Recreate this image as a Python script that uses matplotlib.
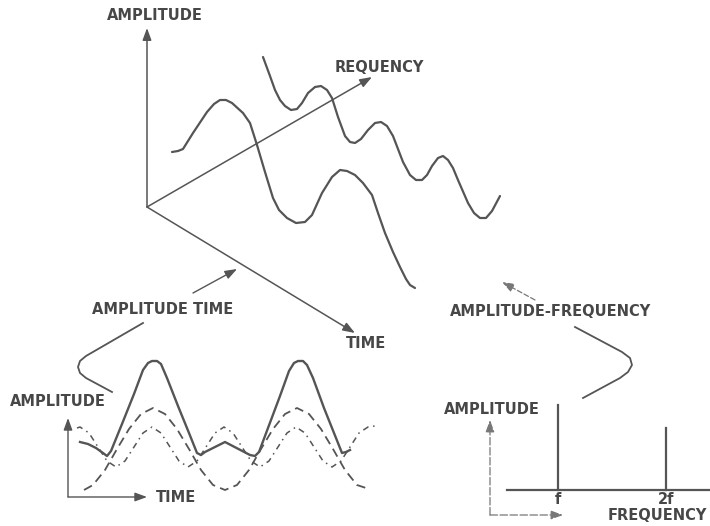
import matplotlib
matplotlib.use("Agg")
from matplotlib import pyplot as plt

# ---- data (pixel positions) ----
origin = (147, 207)
amp_tip = (147, 28)
freq_tip = (372, 77)
time_tip = (355, 333)

# front wave in the 3D view (amplitude vs time)
front_x = [172, 178, 183, 193, 207, 214, 220, 226, 232, 243, 250, 257, 265, 273, 279, 287, 296,
           305, 312, 322, 332, 340, 347, 355, 363, 372, 378, 385, 393, 400, 406, 410, 415]
front_y = [152, 151, 149, 133, 112, 104, 100, 100, 103, 113, 123, 145, 172, 198, 210, 218, 223,
           222, 215, 193, 177, 170, 171, 175, 183, 195, 213, 233, 252, 267, 279, 285, 288]

# back wave in the 3D view (amplitude vs frequency)
back_x = [263, 270, 275, 280, 285, 291, 297, 302, 308, 315, 321, 327, 332, 338, 345, 350, 355,
          361, 368, 375, 381, 387, 393, 403, 410, 416, 422, 427, 432, 438, 443, 448, 453, 458,
          468, 474, 480, 486, 492, 500]
back_y = [57, 76, 90, 100, 106, 110, 109, 103, 93, 87, 86, 90, 98, 117, 136, 142, 143,
          139, 130, 123, 122, 126, 136, 162, 175, 180, 180, 175, 166, 158, 156, 160, 168, 180,
          203, 213, 218, 218, 211, 196]

# bottom-left: fundamental (long dash)
fund_x = [84, 93, 105, 117, 129, 141, 153, 165, 177, 189, 201, 213, 225, 237, 249, 261, 273,
          285, 297, 309, 321, 333, 345, 357, 369]
fund_y = [490, 485, 470, 449, 429, 414, 408, 414, 429, 449, 470, 485, 490, 485, 470, 449, 429,
          414, 408, 414, 429, 449, 470, 485, 489]

# bottom-left: second harmonic (dash-dot)
harm_x = [77, 80, 89, 98, 107, 116, 125, 134, 143, 152, 161, 170, 179, 188, 197, 206, 215, 224,
          233, 242, 251, 260, 269, 278, 287, 296, 305, 314, 323, 332, 341, 350, 359, 368, 375]
harm_y = [428, 427, 433, 447, 461, 467, 461, 447, 433, 427, 433, 447, 461, 467, 461, 447, 433, 427,
          433, 447, 461, 467, 461, 447, 433, 427, 433, 447, 461, 467, 461, 447, 433, 427, 426]

# bottom-left: resulting complex wave (solid)
sum_x = [80, 88, 96, 103, 107, 111, 122, 134, 143, 148, 152, 157, 161, 167, 178, 189, 197, 201,
         205, 225, 250, 255, 259, 268, 280, 289, 294, 298, 303, 307, 313, 324, 334, 342, 346, 350]
sum_y = [442, 444, 448, 453, 456, 451, 424, 394, 370, 363, 361, 361, 364, 378, 406, 433, 453, 455,
         452, 442, 455, 456, 452, 428, 396, 371, 363, 361, 361, 365, 378, 408, 433, 453, 452, 450]

# bottom-right spectrum
spike_labels = ["f", "2f"]
spike_x = [558, 666]
spike_amp = [85, 62]
spec_base = 490

# connector brackets
left_brace_x = [143, 86, 80, 78, 80, 86, 112]
left_brace_y = [323, 356, 361, 367, 373, 378, 392]
right_brace_x = [575, 622, 630, 632, 628, 620, 583]
right_brace_y = [327, 352, 358, 365, 372, 378, 398]

ink = "#555555"
text_ink = "#474747"
font = dict(family="DejaVu Sans", fontweight="bold", fontsize=10.5, color=text_ink,
            ha="center", va="center")


def arrow(ax, tail, tip, lw=1.1, color=ink, ls="-", scale=12):
    ax.annotate("", xy=tip, xytext=tail,
                arrowprops=dict(arrowstyle="-|>,head_length=0.6,head_width=0.22",
                                color=color, lw=lw, ls=ls, shrinkA=0, shrinkB=0,
                                mutation_scale=scale))


fig = plt.figure(figsize=(7.10, 5.26), dpi=100)
ax = fig.add_axes([0, 0, 1, 1])
ax.set_xlim(0, 710)
ax.set_ylim(526, 0)
ax.axis("off")

# 3D view axes
arrow(ax, origin, amp_tip)
arrow(ax, origin, freq_tip)
arrow(ax, origin, time_tip)
ax.plot(front_x, front_y, color=ink, lw=1.6, solid_capstyle="round", solid_joinstyle="round")
ax.plot(back_x, back_y, color=ink, lw=1.6, solid_capstyle="round", solid_joinstyle="round")
ax.text(155, 15, "AMPLITUDE", **font)
ax.text(379, 67, "REQUENCY", **font)
ax.text(366, 343, "TIME", **font)

# pointers to the 3D view
arrow(ax, (193, 293), (237, 269), lw=1.0)
arrow(ax, (535, 300), (502, 282), lw=0.9, color="#777777", ls=(0, (4, 2)))
ax.plot(left_brace_x, left_brace_y, color=ink, lw=1.3, solid_joinstyle="round")
ax.plot(right_brace_x, right_brace_y, color=ink, lw=1.3, solid_joinstyle="round")
ax.text(163, 309, "AMPLITUDE TIME", **font)
ax.text(551, 312, "AMPLITUDE-FREQUENCY", **font)

# bottom-left time plot
arrow(ax, (68, 497), (68, 418), lw=1.0)
arrow(ax, (68, 497), (147, 497), lw=1.0)
ax.plot(fund_x, fund_y, color=ink, lw=1.3, ls=(0, (5, 3)))
ax.plot(harm_x, harm_y, color=ink, lw=1.1, ls=(0, (4, 3, 1, 3)))
ax.plot(sum_x, sum_y, color=ink, lw=1.7, solid_joinstyle="round")
ax.text(58, 402, "AMPLITUDE", **font)
ax.text(176, 498, "TIME", **font)

# bottom-right spectrum plot
arrow(ax, (490, 515), (490, 420), lw=0.9, color="#777777", ls=(0, (6, 2)))
arrow(ax, (490, 515), (563, 515), lw=0.9, color="#777777", ls=(0, (6, 2)))
ax.plot([507, 710], [spec_base, spec_base], color=ink, lw=1.6)
for x, a, lab in zip(spike_x, spike_amp, spike_labels):
    ax.plot([x, x], [spec_base, spec_base - a], color=ink, lw=1.6)
    ax.text(x, spec_base + 10, lab, **font)
ax.text(492, 410, "AMPLITUDE", **font)
ax.text(657, 516, "FREQUENCY", **font)

fig.savefig("out.png", dpi=100, facecolor="white")
